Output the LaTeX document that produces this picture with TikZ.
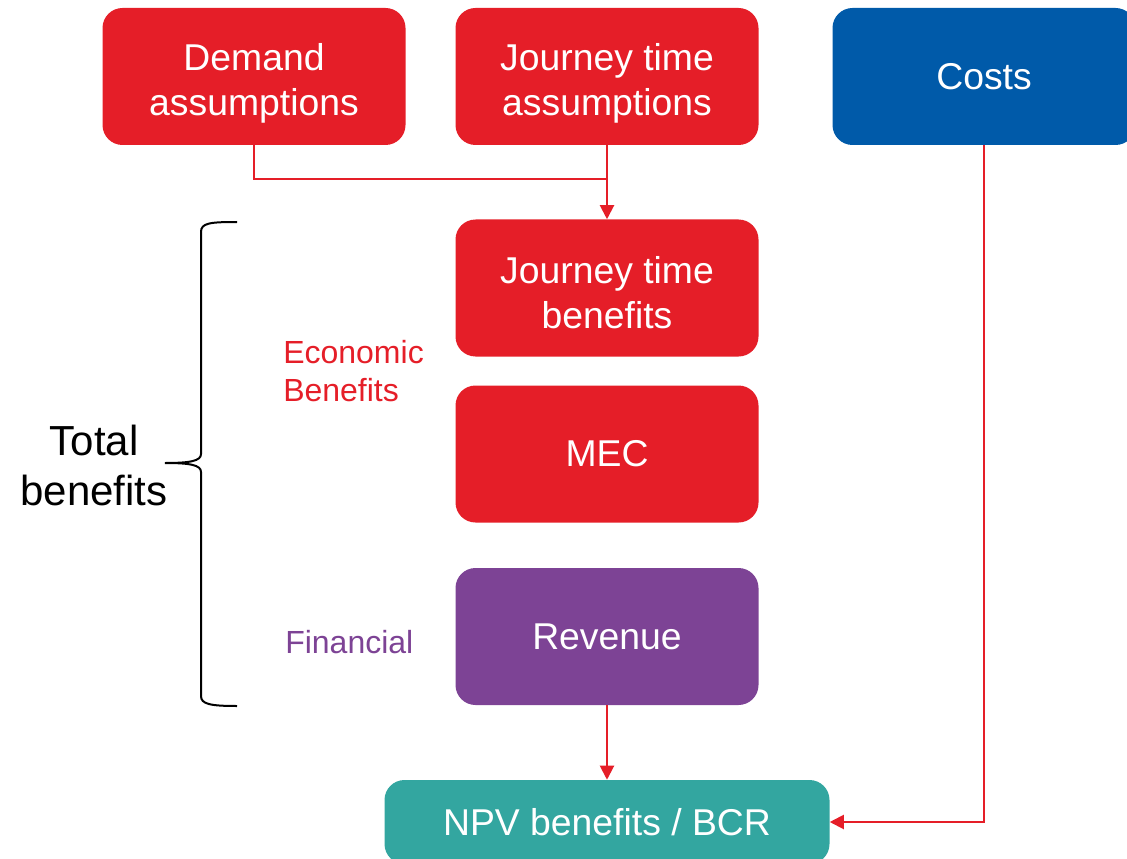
\documentclass[tikz,border=0pt]{standalone}
\usepackage{fontspec}
\setmainfont{Liberation Sans}
\usetikzlibrary{arrows.meta}
\definecolor{cred}{HTML}{E51E28}
\definecolor{cblue}{HTML}{005AA9}
\definecolor{cpurple}{HTML}{7D4395}
\definecolor{cteal}{HTML}{33A6A0}
\tikzset{
  box/.style={rectangle, rounded corners=15pt, text=white, align=center,
    minimum width=227.25pt, minimum height=102.75pt, inner sep=0pt,
    font=\fontsize{28}{33.75}\selectfont},
  conn/.style={draw=cred, line width=1.5pt},
  arr/.style={conn, -{Triangle[length=10.5pt,width=10.5pt]}},
}
\begin{document}
\begin{tikzpicture}[x=0.75pt,y=-0.75pt]
\useasboundingbox (0,0) rectangle (1127,859);
\begin{scope}
\clip (0,0) rectangle (1127,859);
\node[box, fill=cred] (dem) at (254,76.5) {\rule{0pt}{30pt}Demand\\assumptions};
\node[box, fill=cred] (jta) at (607,76.5) {\rule{0pt}{30pt}Journey time\\assumptions};
\node[box, fill=cblue] (costs) at (984,76.5) {Costs};
\node[box, fill=cred] (jtb) at (607,288) {\rule{0pt}{27pt}Journey time\\benefits};
\node[box, fill=cred] (mec) at (607,454) {MEC};
\node[box, fill=cpurple] (rev) at (607,636.5) {Revenue};
\node[box, fill=cteal, minimum width=333.75pt, minimum height=63pt] (npv) at (607,822) {NPV benefits / BCR};
\end{scope}
\coordinate (join) at (607,179);
\draw[conn] (dem.south) |- (join);
\draw[arr] (jta.south) -- (jtb.north);
\draw[arr] (rev.south) -- (npv.north);
\draw[arr] (costs.south) |- (npv.east);
\draw[line width=1.5pt, black] (237,222) .. controls (210,222) and (201,223) .. (201,232) -- (201,454)
  .. controls (201,461) and (190,463) .. (165,463)
  .. controls (190,463) and (201,465) .. (201,472) -- (201,696)
  .. controls (201,704) and (210,706) .. (237,706);
\node[align=center, font=\fontsize{31.5}{37.5}\selectfont] (total) at (94,465) {Total\\benefits};
\node[anchor=west, align=left, text=cred, inner sep=0pt, font=\fontsize{24}{28.5}\selectfont] (econ) at (283,371) {Economic\\Benefits};
\node[anchor=west, text=cpurple, inner sep=0pt, font=\fontsize{24}{28.5}\selectfont] (fin) at (285,642) {Financial};
\end{tikzpicture}
\end{document}
